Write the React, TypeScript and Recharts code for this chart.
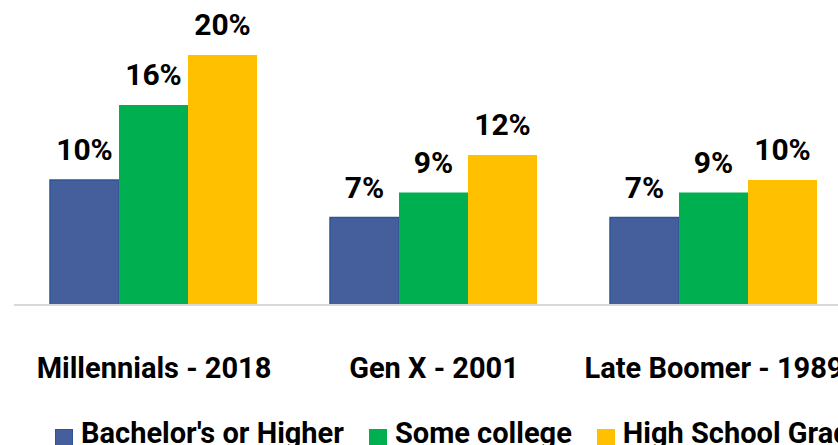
import React from "react";
import { BarChart, Bar, XAxis, YAxis, LabelList, Legend } from "recharts";

const categories = ["Millennials - 2018", "Gen X - 2001", "Late Boomer - 1989"];
const bachelors = [10, 7, 7];
const someCollege = [16, 9, 9];
const highSchool = [20, 12, 10];
const seriesNames = ["Bachelor's or Higher", "Some college", "High School Grad"];
const colors = ["#445F9C", "#00B050", "#FFC000"];

const data = categories.map((c, i) => ({
  name: c,
  bachelors: bachelors[i],
  someCollege: someCollege[i],
  highSchool: highSchool[i],
}));

const FONT = "Roboto, Lato, sans-serif";
const FS = 29;

const fmt = (v: any) => `${v}%`;

const LegendContent = () => {
  return (
    <div style={{ display: "flex", alignItems: "center", whiteSpace: "nowrap", fontFamily: FONT, fontWeight: 700, fontSize: FS, lineHeight: "35px", color: "#000" }}>
      {seriesNames.map((n, i) => (
        <div key={i} style={{ display: "flex", alignItems: "center", marginRight: 25 }}>
          <span style={{ display: "inline-block", width: 18, height: 18, marginTop: 8, background: colors[i], border: i === 0 ? "1.5px solid #2F5597" : "none", boxSizing: "border-box", marginRight: 8 }} />
          <span>{n}</span>
        </div>
      ))}
    </div>
  );
};

const labelStyle = { fill: "#000", fontSize: 30, fontWeight: 700, fontFamily: FONT };

export default function App() {
  return (
    <div style={{ position: "fixed", left: 0, top: 0, width: 838, height: 445, overflow: "hidden", background: "#fff" }}>
      <BarChart
        width={900}
        height={445}
        data={data}
        margin={{ top: 55, right: 46, left: 14, bottom: 80 }}
        barGap={0}
        barCategoryGap={36}
      >
        <XAxis
          dataKey="name"
          height={60}
          axisLine={{ stroke: "#D9D9D9", strokeWidth: 2 }}
          tickLine={false}
          tickMargin={46}
          tick={{ fill: "#000", fontSize: FS, fontWeight: 700, fontFamily: FONT }}
          interval={0}
        />
        <YAxis hide domain={[0, 20]} />
        <Legend
          verticalAlign="middle"
          layout="horizontal"
          content={<LegendContent />}
          wrapperStyle={{ top: 416, left: 55, width: 900 }}
        />
        <Bar dataKey="bachelors" name={seriesNames[0]} fill={colors[0]} stroke="#2F5597" strokeWidth={1.5} isAnimationActive={false}>
          <LabelList dataKey="bachelors" position="top" offset={20} formatter={fmt} style={labelStyle} />
        </Bar>
        <Bar dataKey="someCollege" name={seriesNames[1]} fill={colors[1]} isAnimationActive={false}>
          <LabelList dataKey="someCollege" position="top" offset={20} formatter={fmt} style={labelStyle} />
        </Bar>
        <Bar dataKey="highSchool" name={seriesNames[2]} fill={colors[2]} isAnimationActive={false}>
          <LabelList dataKey="highSchool" position="top" offset={20} formatter={fmt} style={labelStyle} />
        </Bar>
      </BarChart>
    </div>
  );
}
